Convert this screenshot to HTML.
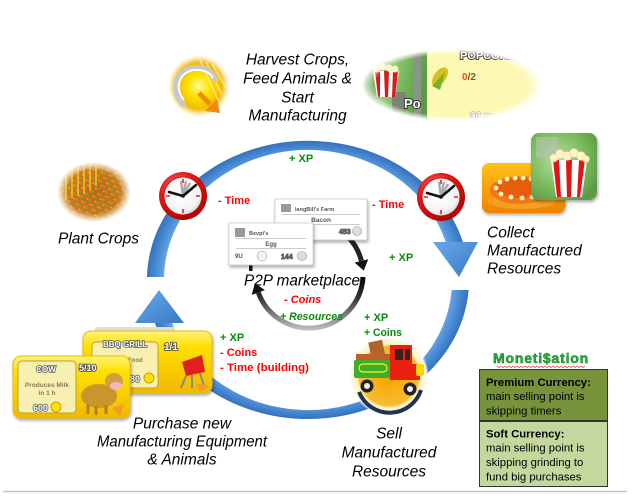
<!DOCTYPE html>
<html><head><meta charset="utf-8"><style>
html,body{margin:0;padding:0;background:#fff;}
svg{display:block;}
.lab{font-family:"Liberation Sans",sans-serif;font-style:italic;font-size:15.5px;fill:#000;}
.r{font-family:"Liberation Sans",sans-serif;font-weight:bold;font-size:11px;fill:#ff0000;}
.g{font-family:"Liberation Sans",sans-serif;font-weight:bold;font-size:11px;fill:#0a8a0a;}
.bx{font-family:"Liberation Sans",sans-serif;font-size:11.3px;fill:#000;}
.tiny{font-family:"Liberation Sans",sans-serif;font-weight:bold;fill:#555;}
</style></head><body>
<svg width="644" height="503" viewBox="0 0 644 503" xmlns="http://www.w3.org/2000/svg">
<defs>
<radialGradient id="ring" gradientUnits="userSpaceOnUse" cx="308" cy="280" r="161" gradientTransform="translate(308 280) scale(1 0.863) translate(-308 -280)">
<stop offset="0.86" stop-color="#86b8ec"/><stop offset="0.93" stop-color="#5193da"/><stop offset="1" stop-color="#3572bd"/>
</radialGradient>
<linearGradient id="ah" x1="0" y1="0" x2="1" y2="1"><stop offset="0" stop-color="#68a8e8"/><stop offset="1" stop-color="#3a7ac6"/></linearGradient>
<radialGradient id="cr" cx="40%" cy="35%" r="70%"><stop offset="0" stop-color="#ff8a8a"/><stop offset=".5" stop-color="#e41c1c"/><stop offset="1" stop-color="#a80000"/></radialGradient>
<radialGradient id="cf" cx="45%" cy="40%" r="65%"><stop offset="0" stop-color="#fff"/><stop offset=".75" stop-color="#f4f4f4"/><stop offset="1" stop-color="#c4c4c4"/></radialGradient>
<g id="clk">
<circle r="24" fill="url(#cr)"/>
<circle r="19" fill="url(#cf)" stroke="#b00" stroke-width="0.8"/>
<path d="M0 -17V-13M17 0H13M0 17V13M-17 0H-13" stroke="#d22" stroke-width="1.6"/>
<path d="M0 0L-2 -15M0 0L3 -15M0 0L7 -13" stroke="#aaa" stroke-width="2.4"/>
<path d="M-14 -4L0 0L13 -11" stroke="#111" stroke-width="2.6" fill="none" stroke-linecap="round" stroke-linejoin="round"/>
<circle r="1.8" fill="#111"/>
</g>
<radialGradient id="fade"><stop offset="0.72" stop-color="#fff"/><stop offset="1" stop-color="#000"/></radialGradient>
<radialGradient id="fade2"><stop offset="0.85" stop-color="#fff"/><stop offset="1" stop-color="#000"/></radialGradient>
<mask id="mcrop"><ellipse cx="94" cy="192" rx="37" ry="30" fill="url(#fade)"/></mask>
<mask id="msick"><circle cx="199" cy="86" r="31" fill="url(#fade)"/></mask>
<mask id="mpop"><ellipse cx="452" cy="85" rx="90" ry="36" fill="url(#fade2)"/></mask>
<pattern id="crp" width="6" height="6" patternUnits="userSpaceOnUse" patternTransform="rotate(-25)"><rect width="6" height="6" fill="#d2681e"/><circle cx="3" cy="3" r="1.8" fill="#78b428"/><circle cx="1.2" cy="1.2" r="0.9" fill="#ffd400"/></pattern>
<radialGradient id="crg" cx="50%" cy="50%" r="50%"><stop offset="0" stop-color="#b24a18" stop-opacity="0.3"/><stop offset="1" stop-color="#e89030" stop-opacity="0.4"/></radialGradient>
<radialGradient id="sickY" cx="50%" cy="50%" r="50%"><stop offset="0" stop-color="#fff6a0"/><stop offset=".35" stop-color="#ffe400"/><stop offset=".8" stop-color="#f0b400"/><stop offset="1" stop-color="#f8d860"/></radialGradient>
<linearGradient id="popg" x1="0" y1="0" x2="1" y2="0.3"><stop offset="0" stop-color="#3e7c2e"/><stop offset=".5" stop-color="#8fca74"/><stop offset="1" stop-color="#5a9a44"/></linearGradient>
<linearGradient id="yel" x1="0" y1="0" x2="0" y2="1"><stop offset="0" stop-color="#fff27a"/><stop offset=".25" stop-color="#ffe000"/><stop offset="1" stop-color="#f2b800"/></linearGradient>
<linearGradient id="org" x1="0" y1="0" x2="0" y2="1"><stop offset="0" stop-color="#ffc21a"/><stop offset="1" stop-color="#ee8200"/></linearGradient>
<radialGradient id="grn" cx="40%" cy="40%" r="70%"><stop offset="0" stop-color="#b8dca8"/><stop offset=".6" stop-color="#7cbc5c"/><stop offset="1" stop-color="#5c9a48"/></radialGradient>
<radialGradient id="trk" cx="50%" cy="50%" r="50%"><stop offset="0" stop-color="#f6a400"/><stop offset=".74" stop-color="#f8bc30"/><stop offset=".8" stop-color="#fff2c8"/><stop offset=".93" stop-color="#fff8e4"/><stop offset="1" stop-color="#fff" stop-opacity="0"/></radialGradient>
<linearGradient id="blk" gradientUnits="userSpaceOnUse" x1="0" y1="276" x2="0" y2="330"><stop offset="0" stop-color="#000"/><stop offset=".4" stop-color="#333"/><stop offset="1" stop-color="#c0c0c0"/></linearGradient>
<filter id="sh" x="-10%" y="-10%" width="130%" height="140%"><feDropShadow dx="1" dy="2" stdDeviation="1.5" flood-color="#000" flood-opacity="0.35"/></filter>
</defs>

<!-- big blue ring -->
<path d="M147 277 A161 139 0 0 1 462.9 242 L445.7 242 A144 130 0 0 0 164 277 Z" fill="url(#ring)"/>
<polygon points="433,242 478,242 459,277" fill="url(#ah)"/>
<path d="M468.6 290 A161 139 0 0 1 154.9 323 L172.1 323 A144 130 0 0 0 451.6 290 Z" fill="url(#ring)"/>
<polygon points="135,323 184,323 159,290" fill="url(#ah)"/>

<!-- sickle icon -->
<g mask="url(#msick)">
<circle cx="199" cy="86" r="31" fill="url(#sickY)"/>
<path d="M206 62L222 95M212 64L226 88M200 60L218 100" stroke="#fff6b8" stroke-width="1.2" opacity=".8"/>
</g>
<path d="M183 104 C170 90, 176 70, 194 68 C206 67, 213 73, 215 79" stroke="#c8c8c8" stroke-width="6" fill="none" stroke-linecap="round"/>
<path d="M184 100 C174 88, 179 72, 194 70 C205 69, 211 74, 213 78" stroke="#fff" stroke-width="2" fill="none"/>
<path d="M199 93 L210 104" stroke="#f08a10" stroke-width="5"/>
<polygon points="205,111 220,113 217,99" fill="#f08a10"/>

<!-- harvest text -->
<text class="lab" x="297.5" y="64.5" text-anchor="middle">Harvest Crops,</text>
<text class="lab" x="297.5" y="83.5" text-anchor="middle">Feed Animals &amp;</text>
<text class="lab" x="297.5" y="102.5" text-anchor="middle">Start</text>
<text class="lab" x="297.5" y="120.5" text-anchor="middle">Manufacturing</text>

<!-- popcorn oval -->
<g mask="url(#mpop)">
<rect x="360" y="48" width="68" height="76" fill="url(#popg)"/>
<rect x="414" y="50" width="7" height="70" fill="#8a9488"/>
<rect x="392" y="92" width="14" height="20" fill="#7a8478"/>
<rect x="427" y="48" width="120" height="76" fill="#fdf9b4"/>
<polygon points="373,71 399,71 395,97 377,97" fill="#fff"/>
<polygon points="375,71 380,71 380,97 378,97" fill="#e01818"/>
<polygon points="384,71 389,71 388,97 385,97" fill="#e01818"/>
<polygon points="393,71 398,71 395,97 392,97" fill="#e01818"/>
<circle cx="377" cy="69" r="3.5" fill="#fff2c0"/><circle cx="383" cy="67" r="3.5" fill="#fff2c0"/><circle cx="389" cy="68" r="3.5" fill="#fff2c0"/><circle cx="395" cy="69" r="3.5" fill="#fff2c0"/>
<text x="404" y="108" font-family="Liberation Sans,sans-serif" font-weight="bold" font-size="13" fill="#fff" stroke="#333" stroke-width="2" paint-order="stroke">Po</text>
<text x="460" y="59" font-family="Liberation Sans,sans-serif" font-weight="bold" font-size="11" fill="#fff" stroke="#444" stroke-width="2" paint-order="stroke">POPCORN</text>
<ellipse cx="440" cy="77" rx="6" ry="11" transform="rotate(35 440 77)" fill="#d4c020"/>
<path d="M432 86 L445 72 L440 90 Z" fill="#7ab030"/>
<text x="462" y="80" font-family="Liberation Sans,sans-serif" font-weight="bold" font-size="10"><tspan fill="#f05010">0</tspan><tspan fill="#7a5a30">/2</tspan></text>
<text x="470" y="119" font-family="Liberation Sans,sans-serif" font-weight="bold" font-size="10" fill="#fff" stroke="#aaa" stroke-width="1.2" paint-order="stroke">30 m</text>
</g>

<!-- crops icon -->
<g mask="url(#mcrop)">
<ellipse cx="94" cy="192" rx="37" ry="30" fill="url(#crp)"/>
<ellipse cx="94" cy="192" rx="37" ry="30" fill="url(#crg)"/>
<path d="M66 170V200M72 166V198M78 164V196M84 163V194M90 163V190M96 164V186" stroke="#f2c020" stroke-width="1.6"/>
</g>
<text class="lab" x="58" y="243.5">Plant Crops</text>

<!-- clocks -->
<use href="#clk" transform="translate(183,196)"/>
<use href="#clk" transform="translate(441,197)"/>

<!-- collect tiles -->
<g filter="url(#sh)">
<rect x="482" y="163" width="83" height="50" rx="7" fill="url(#org)"/>
<ellipse cx="522" cy="201" rx="34" ry="8" fill="#f6a020"/>
<ellipse cx="520" cy="190" rx="30" ry="14" fill="#f07818"/>
<ellipse cx="520" cy="188" rx="25" ry="10" fill="#e85c10"/>
<g fill="#fff0c0">
<circle cx="496" cy="188" r="2.4"/><circle cx="500" cy="182" r="2.4"/><circle cx="507" cy="179" r="2.4"/><circle cx="515" cy="178" r="2.4"/><circle cx="523" cy="178" r="2.4"/><circle cx="531" cy="179" r="2.4"/><circle cx="538" cy="182" r="2.4"/><circle cx="543" cy="187" r="2.4"/><circle cx="540" cy="193" r="2.4"/><circle cx="532" cy="197" r="2.4"/><circle cx="522" cy="198" r="2.4"/><circle cx="511" cy="197" r="2.4"/><circle cx="501" cy="194" r="2.4"/>
</g>
</g>
<g filter="url(#sh)">
<rect x="531" y="133" width="66" height="67" rx="8" fill="url(#grn)"/>
<rect x="536" y="137" width="22" height="20" fill="#b8c0b4" opacity=".6"/>
<polygon points="551,160 587,160 582,197 556,197" fill="#fff"/>
<polygon points="553,160 559,160 561,197 557,197" fill="#e01818"/>
<polygon points="566,160 572,160 571,197 567,197" fill="#e01818"/>
<polygon points="579,160 585,160 580,197 577,197" fill="#e01818"/>
<g fill="#fff4c8" stroke="#e8d090" stroke-width=".5">
<circle cx="554" cy="158" r="4"/><circle cx="560" cy="154" r="4.5"/><circle cx="567" cy="156" r="4.5"/><circle cx="574" cy="153" r="4.5"/><circle cx="581" cy="156" r="4.5"/><circle cx="586" cy="159" r="3.5"/>
</g>
</g>
<text class="lab" x="487" y="237.5">Collect</text>
<text class="lab" x="487" y="255.5">Manufactured</text>
<text class="lab" x="487" y="273.5">Resources</text>

<!-- labels around ring -->
<text class="g" x="289" y="162">+ XP</text>
<text class="r" x="218" y="204">- Time</text>
<text class="r" x="372" y="208">- Time</text>
<text class="g" x="389" y="261">+ XP</text>

<!-- marketplace -->
<path d="M349.1 237.9 A54 54 0 0 1 361.4 260.9" stroke="#222" stroke-width="5" fill="none"/>
<polygon points="368.2,259.2 354.6,262.6 363.8,270.6" fill="#111"/>
<path d="M363 277 A54 54 0 0 1 258.3 292.5" stroke="url(#blk)" stroke-width="5" fill="none"/>
<polygon points="251.7,294.9 264.9,290.1 254.9,283.1" fill="#111"/>
<rect x="249" y="263" width="3.5" height="8" fill="#111"/>
<g filter="url(#sh)">
<rect x="275" y="199" width="92" height="41" fill="#fff" stroke="#ccc" stroke-width=".8"/>
</g>
<rect x="281" y="204" width="10" height="8" fill="#999"/>
<text class="tiny" x="295" y="211" font-size="5.5">langBill's Farm</text>
<path d="M282 214.5H360M282 224.5H360" stroke="#bbb" stroke-width=".8"/>
<text class="tiny" x="321" y="222" font-size="6.5" text-anchor="middle" fill="#333">Bacon</text>
<text class="tiny" x="282" y="234" font-size="6" fill="#999">9U</text>
<path d="M294 232 l4 -3 l4 2 l4 -3 l4 2" stroke="#aaa" stroke-width="2.5" fill="none"/>
<text class="tiny" x="339" y="234" font-size="7" fill="#fff" stroke="#777" stroke-width="1" paint-order="stroke">453</text>
<circle cx="357" cy="231" r="4.5" fill="#ddd" stroke="#999" stroke-width=".6"/>
<g filter="url(#sh)">
<rect x="229" y="223" width="84" height="42" fill="#fff" stroke="#ccc" stroke-width=".8"/>
</g>
<rect x="235" y="228" width="10" height="9" fill="#999"/>
<text class="tiny" x="249" y="235" font-size="5.5">Bevpi's</text>
<path d="M236 238.5H306M236 248.5H306" stroke="#bbb" stroke-width=".8"/>
<text class="tiny" x="271" y="246" font-size="6" text-anchor="middle" fill="#333">Egg</text>
<text class="tiny" x="235" y="258" font-size="6" fill="#999">9U</text>
<circle cx="262" cy="256" r="5" fill="#f2f2f2" stroke="#aaa" stroke-width=".6"/>
<text class="tiny" x="281" y="259" font-size="7" fill="#fff" stroke="#777" stroke-width="1" paint-order="stroke">144</text>
<circle cx="302" cy="256" r="4.5" fill="#ddd" stroke="#999" stroke-width=".6"/>

<text class="lab" x="244" y="285.5" textLength="116" lengthAdjust="spacingAndGlyphs">P2P marketplace</text>
<text class="r" x="284" y="303" font-style="italic">- Coins</text>
<text class="g" x="280" y="320" font-style="italic" textLength="63" lengthAdjust="spacingAndGlyphs">+ Resources</text>
<text class="g" x="364" y="321">+ XP</text>
<text class="g" x="364" y="336" textLength="38" lengthAdjust="spacingAndGlyphs">+ Coins</text>

<!-- truck -->
<circle cx="389" cy="376" r="40" fill="url(#trk)"/>
<path d="M359 392 A33 33 0 0 0 421 390" stroke="#1c3450" stroke-width="4" fill="none"/>
<rect x="370" y="341" width="14" height="18" fill="#b0642c" transform="rotate(-12 377 350)"/>
<rect x="356" y="354" width="34" height="7" fill="#c06028"/>
<rect x="354" y="360" width="38" height="18" rx="2" fill="#3cae2c"/>
<rect x="359" y="364" width="28" height="8" rx="4" fill="none" stroke="#f8f020" stroke-width="1.2"/>
<path d="M390 345 H412 V364 H420 V380 H390 Z" fill="#e82010"/>
<rect x="395" y="349" width="8" height="11" fill="#3a2020"/>
<rect x="405" y="349" width="5" height="11" fill="#3a2020"/>
<rect x="416" y="364" width="8" height="12" rx="2" fill="#f8d800"/>
<circle cx="367" cy="386" r="6.5" fill="#222"/><circle cx="367" cy="386" r="3" fill="#eee"/>
<circle cx="410" cy="389" r="6.5" fill="#222"/><circle cx="410" cy="389" r="3" fill="#eee"/>

<!-- bottom-left cards -->
<rect x="95" y="327" width="80" height="6" rx="2" fill="#ddd"/>
<g filter="url(#sh)">
<rect x="83" y="331" width="129" height="62" rx="8" fill="url(#yel)" stroke="#e8c000" stroke-width="1"/>
</g>
<rect x="92" y="342" width="66" height="46" rx="4" fill="#f8f0b0" stroke="#b8a040" stroke-width="1"/>
<text x="125" y="347" text-anchor="middle" font-family="Liberation Sans,sans-serif" font-weight="bold" font-size="8" fill="#fff" stroke="#555" stroke-width="1.6" paint-order="stroke">BBQ GRILL</text>
<text x="164" y="350" font-family="Liberation Sans,sans-serif" font-weight="bold" font-size="10" fill="#fff" stroke="#444" stroke-width="1.6" paint-order="stroke">1/1</text>
<text x="128" y="362" font-family="Liberation Sans,sans-serif" font-weight="bold" font-size="6" fill="#8a7a55">Food</text>
<text x="130" y="382" font-family="Liberation Sans,sans-serif" font-weight="bold" font-size="9" fill="#fff" stroke="#555" stroke-width="1.4" paint-order="stroke">80</text>
<circle cx="149" cy="378" r="5" fill="#ffe000" stroke="#c09000" stroke-width=".8"/>
<path d="M182 362 L202 355 L205 372 L186 376 Z" fill="#e02020"/>
<path d="M186 376 L181 388 M200 373 L204 386 M192 375 L192 388" stroke="#888" stroke-width="2"/>
<polygon points="195,383 210,386 200,392" fill="#f0a020"/>
<g filter="url(#sh)">
<rect x="13" y="356" width="117" height="62" rx="8" fill="url(#yel)" stroke="#e8c000" stroke-width="1"/>
</g>
<rect x="18" y="361" width="58" height="52" rx="4" fill="#f8f0b0" stroke="#b8a040" stroke-width="1"/>
<text x="46" y="372" text-anchor="middle" font-family="Liberation Sans,sans-serif" font-weight="bold" font-size="8" fill="#fff" stroke="#555" stroke-width="1.6" paint-order="stroke">COW</text>
<text x="79" y="371" font-family="Liberation Sans,sans-serif" font-weight="bold" font-size="9" fill="#fff" stroke="#444" stroke-width="1.6" paint-order="stroke">5/10</text>
<text x="47" y="387" text-anchor="middle" font-family="Liberation Sans,sans-serif" font-weight="bold" font-size="6.5" fill="#8a7a55">Produces Milk</text>
<text x="47" y="395" text-anchor="middle" font-family="Liberation Sans,sans-serif" font-weight="bold" font-size="6.5" fill="#8a7a55">in 1 h</text>
<text x="33" y="411" font-family="Liberation Sans,sans-serif" font-weight="bold" font-size="9" fill="#fff" stroke="#555" stroke-width="1.4" paint-order="stroke">600</text>
<circle cx="56" cy="407" r="5" fill="#ffe000" stroke="#c09000" stroke-width=".8"/>
<ellipse cx="99" cy="396" rx="18" ry="12" fill="#c8962c"/>
<ellipse cx="114" cy="381" rx="9" ry="8" fill="#d0a040"/>
<ellipse cx="116" cy="386" rx="6" ry="4" fill="#f0b8c0"/>
<path d="M88 405V414M96 406V415M106 405V414" stroke="#b08020" stroke-width="3"/>
<polygon points="112,408 124,404 120,416" fill="#f0a020"/>

<text class="g" x="220" y="341">+ XP</text>
<text class="r" x="220" y="356">- Coins</text>
<text class="r" x="220" y="371" textLength="89" lengthAdjust="spacingAndGlyphs">- Time (building)</text>

<text class="lab" x="182" y="428.5" text-anchor="middle">Purchase new</text>
<text class="lab" x="182" y="446.5" text-anchor="middle" textLength="170" lengthAdjust="spacingAndGlyphs">Manufacturing Equipment</text>
<text class="lab" x="182" y="464.5" text-anchor="middle">&amp; Animals</text>

<text class="lab" x="389" y="438.5" text-anchor="middle">Sell</text>
<text class="lab" x="389" y="457.5" text-anchor="middle">Manufactured</text>
<text class="lab" x="389" y="476.5" text-anchor="middle">Resources</text>

<!-- monetisation -->
<text x="541" y="363" text-anchor="middle" font-family="Liberation Sans,sans-serif" font-weight="bold" font-size="14" letter-spacing="0.8" fill="#2cb040" stroke="#0a7a1a" stroke-width="0.5">Moneti$ation</text>
<path d="M497 366 l2 1.5 l2 -1.5 l2 1.5 l2 -1.5 l2 1.5 l2 -1.5 l2 1.5 l2 -1.5 l2 1.5 l2 -1.5 l2 1.5 l2 -1.5 l2 1.5 l2 -1.5 l2 1.5 l2 -1.5 l2 1.5 l2 -1.5 l2 1.5 l2 -1.5 l2 1.5 l2 -1.5 l2 1.5 l2 -1.5 l2 1.5 l2 -1.5 l2 1.5 l2 -1.5 l2 1.5 l2 -1.5 l2 1.5 l2 -1.5 l2 1.5 l2 -1.5 l2 1.5 l2 -1.5 l2 1.5 l2 -1.5 l2 1.5 l2 -1.5 l2 1.5 l2 -1.5 l2 1.5 l2 -1.5" stroke="#e03030" stroke-width=".7" fill="none"/>
<rect x="479.5" y="369.5" width="128" height="51" fill="#77933c" stroke="#333" stroke-width="1"/>
<rect x="479.5" y="421.5" width="128" height="65" fill="#c4d89e" stroke="#333" stroke-width="1"/>
<text class="bx" x="486" y="386" font-weight="bold">Premium Currency:</text>
<text class="bx" x="486" y="400">main selling point is</text>
<text class="bx" x="486" y="414.5">skipping timers</text>
<text class="bx" x="486" y="437.5" font-weight="bold">Soft Currency:</text>
<text class="bx" x="486" y="451.5">main selling point is</text>
<text class="bx" x="486" y="466">skipping grinding to</text>
<text class="bx" x="486" y="480.5">fund big purchases</text>

<path d="M3 491.5H627" stroke="#c4c4c4" stroke-width="1.5"/>
</svg>
</body></html>
